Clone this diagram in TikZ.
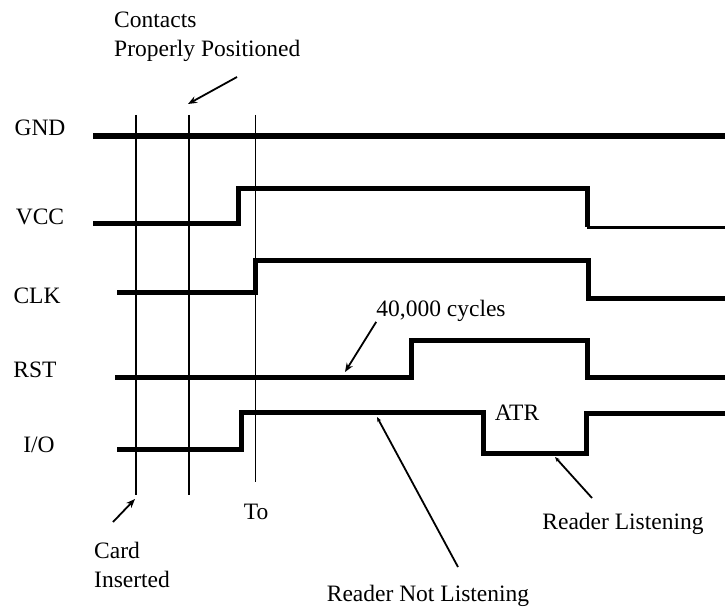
\documentclass[tikz,border=0pt]{standalone}
\usepackage{fontspec}
\setmainfont{Liberation Serif}
\usetikzlibrary{positioning,arrows.meta}

\begin{document}
\begin{tikzpicture}[
  x=1pt, y=-1pt,
  sig/.style={line width=5pt, line join=miter},
  mark line/.style={line width=2pt},
  note/.style={-{Stealth[length=9pt,width=7pt]}, line width=1.8pt},
  lab/.style={font=\fontsize{23.5}{29}\selectfont, inner sep=0pt, align=left}
]
  \useasboundingbox (0,0) rectangle (725,607);

  % --- signal names -----------------------------------------------------
  \node[lab] (gnd) at (40,128) {GND};
  \node[lab] (vcc) at (40,217) {VCC};
  \node[lab] (clk) at (37,296) {CLK};
  \node[lab] (rst) at (35,370) {RST};
  \node[lab] (io)  at (39,445) {I/O};

  % --- event markers ----------------------------------------------------
  \draw[mark line] (136,115) -- (136,495);
  \draw[mark line, line width=2.5pt] (189,115) -- (189,495);
  \draw[line width=1pt] (255,115) -- (255,482);

  % --- waveforms --------------------------------------------------------
  \draw[sig] (93,136) -- (725,136);
  \draw[sig] (93,223) -- (238,223) -- (238,188) -- (587,188) -- (587,227);
  \draw[line width=3pt] (587,227) -- (725,227);
  \draw[sig] (117,292) -- (255,292) -- (255,260) -- (588,260)
    -- (588,298) -- (725,298);
  \draw[sig] (115,377) -- (411,377) -- (411,340) -- (587,340)
    -- (587,377) -- (725,377);
  \draw[sig] (117,449) -- (241,449) -- (241,412) -- (483,412)
    -- (483,453) -- (586,453) -- (586,413) -- (725,413);

  % --- annotations ------------------------------------------------------
  \node[lab, anchor=west] (contacts) at (114,37) {Contacts\\Properly Positioned};
  \coordinate (contactsTail) at (237,77);
  \coordinate (contactsTip) at (188,104);
  \draw[note] (contactsTail) -- (contactsTip);

  \node[lab] (cycles) at (441,311) {40,000 cycles};
  \coordinate (cyclesTip) at (345,372);
  \draw[note] (cycles.south west) -- (cyclesTip);

  \node[lab] (atr) at (517,413) {ATR};
  \node[lab] (to) at (256,512) {To};

  \node[lab, anchor=west] (card) at (94,565) {Card\\Inserted};
  \coordinate (cardTail) at (113,522);
  \coordinate (cardTip) at (135,499);
  \draw[note] (cardTail) -- (cardTip);

  \node[lab] (notlisten) at (428,596) {Reader Not Listening};
  \coordinate (notlistenTail) at (458,567);
  \coordinate (notlistenTip) at (377,417);
  \draw[note, -{Stealth[length=5pt,width=4pt]}] (notlistenTail) -- (notlistenTip);

  \node[lab] (listen) at (623,524) {Reader Listening};
  \coordinate (listenTail) at (592,498);
  \coordinate (listenTip) at (555,457);
  \draw[note, -{Stealth[length=5pt,width=4pt]}] (listenTail) -- (listenTip);
\end{tikzpicture}
\end{document}
